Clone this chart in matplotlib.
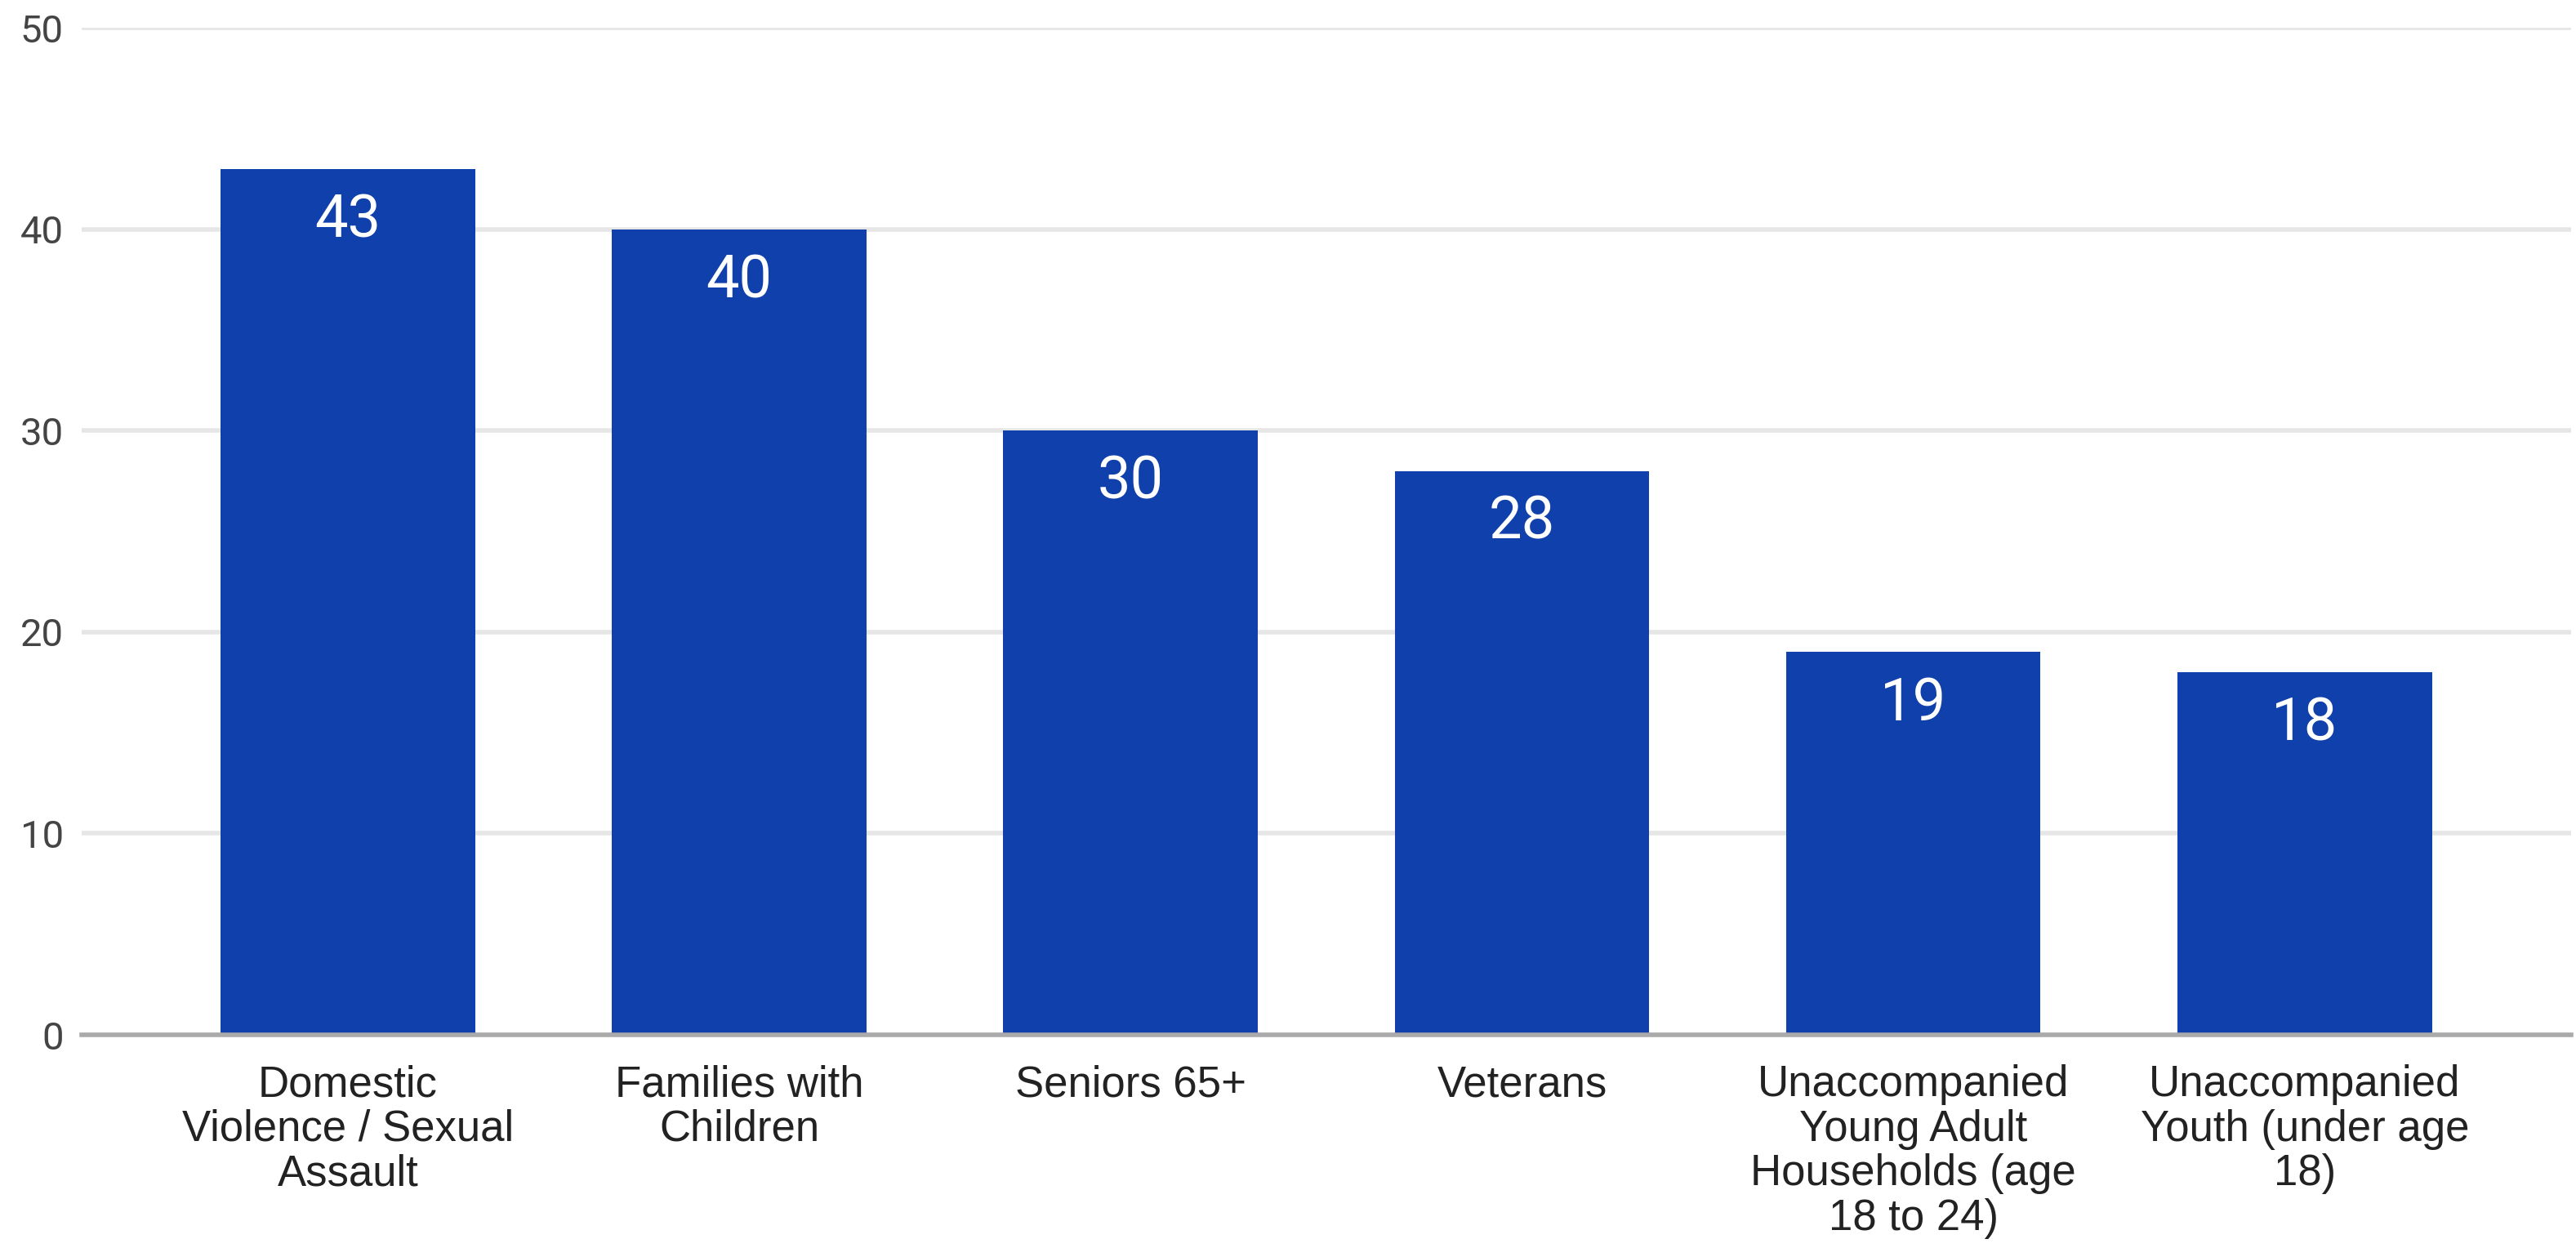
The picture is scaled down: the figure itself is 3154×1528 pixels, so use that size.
import matplotlib
matplotlib.use('Agg')
import matplotlib.pyplot as plt

# categories and counts
categories = ['Domestic\nViolence / Sexual\nAssault',
              'Families with\nChildren',
              'Seniors 65+',
              'Veterans',
              'Unaccompanied\nYoung Adult\nHouseholds (age\n18 to 24)',
              'Unaccompanied\nYouth (under age\n18)']
counts = [43, 40, 30, 28, 19, 18]
y_ticks = [0, 10, 20, 30, 40, 50]

plt.rcParams['font.family'] = ['Roboto', 'DejaVu Sans']

fig = plt.figure(figsize=(31.54, 15.28), dpi=100)
ax = fig.add_axes([0.0317, 0.1708, 0.9663, 0.8069])

x = list(range(len(categories)))
bars = ax.bar(x, counts, width=0.65, color='#1040ab', zorder=3)

# value labels inside the top of each bar
for b, v in zip(bars, counts):
    ax.annotate(str(v), (b.get_x() + b.get_width() / 2, v),
                xytext=(0, -46), textcoords='offset points',
                ha='center', va='center', color='white', fontsize=52, zorder=4)

ax.set_xlim(-0.68, len(categories) - 1 + 0.68)
ax.set_ylim(0, 50)
ax.set_yticks(y_ticks)
ax.set_xticks(x)
ax.set_xticklabels(categories, fontsize=38, color='#222222', linespacing=1.12,
                   va='top', ha='center', family=['Liberation Sans', 'DejaVu Sans'])
ax.tick_params(axis='x', length=0, pad=26)
ax.tick_params(axis='y', length=0, pad=16, labelsize=34, labelcolor='#444444')

ax.grid(axis='y', color='#e6e6e6', linewidth=4, zorder=0)
for s in ['top', 'right', 'left']:
    ax.spines[s].set_visible(False)
ax.spines['bottom'].set_color('#aaaaaa')
ax.spines['bottom'].set_linewidth(4)
ax.spines['bottom'].set_zorder(5)

fig.savefig('out.png', dpi=100)
